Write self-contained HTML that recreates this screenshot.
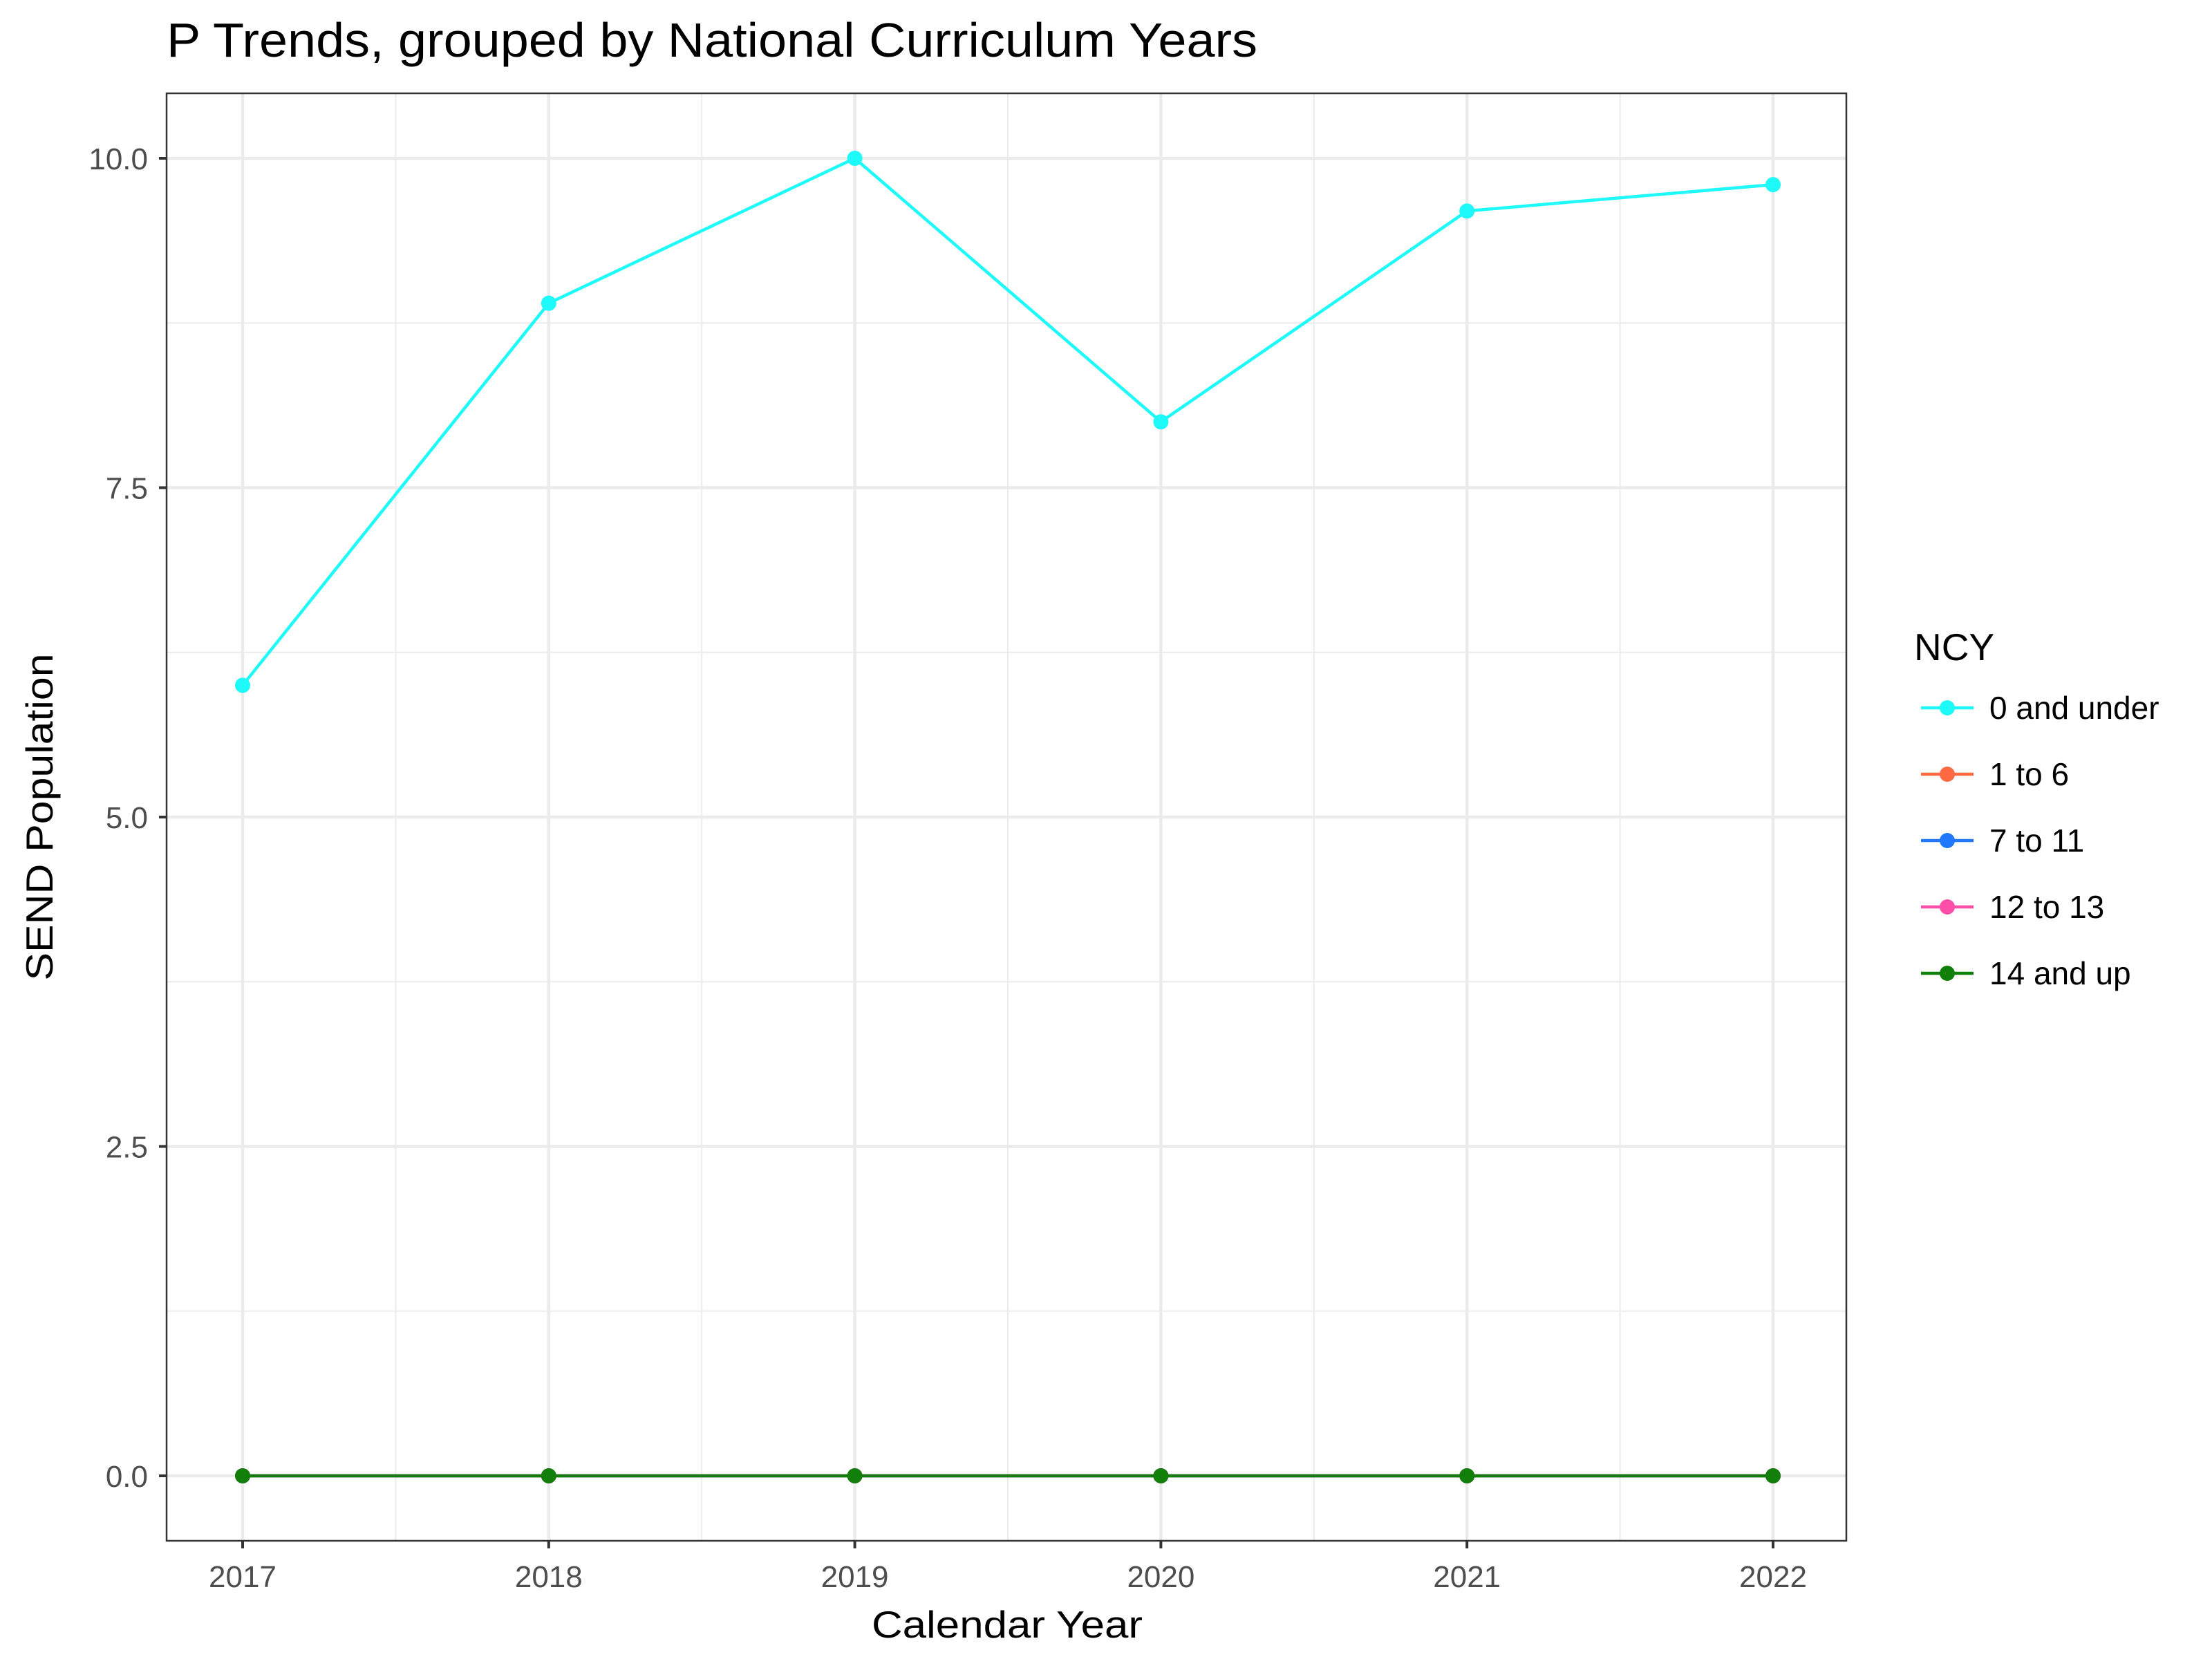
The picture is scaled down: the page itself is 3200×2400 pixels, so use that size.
<!DOCTYPE html>
<html><head><meta charset="utf-8"><style>html,body{margin:0;padding:0;background:#fff}svg{display:block}</style></head>
<body>
<svg id="chart" width="3200" height="2400" viewBox="0 0 3200 2400" xmlns="http://www.w3.org/2000/svg" font-family="'Liberation Sans', Arial, sans-serif">
<rect width="3200" height="2400" fill="#fff"/>
<text x="241" y="82" font-size="70" fill="#000" textLength="1578" lengthAdjust="spacingAndGlyphs">P Trends, grouped by National Curriculum Years</text>
<g id="grid"></g>
<g id="series"></g>
<rect x="241" y="135" width="2430" height="2094" fill="none" stroke="#333" stroke-width="2.5"/>
<g id="axes"></g>
<text x="1457" y="2369" font-size="55" text-anchor="middle" fill="#000" textLength="392" lengthAdjust="spacingAndGlyphs">Calendar Year</text>
<text transform="translate(76,1182) rotate(-90)" font-size="55" text-anchor="middle" fill="#000" textLength="473" lengthAdjust="spacingAndGlyphs">SEND Population</text>
<g id="legend">
<text x="2769" y="955" font-size="55" fill="#000">NCY</text>
</g>
</svg>
<script>
const years = [2017, 2018, 2019, 2020, 2021, 2022];
const yTicks = [0, 2.5, 5, 7.5, 10];
const yTickLabels = ["0.0", "2.5", "5.0", "7.5", "10.0"];
const seriesNames = ["0 and under", "1 to 6", "7 to 11", "12 to 13", "14 and up"];
const seriesColors = ["#1ef9f9", "#ff6a42", "#1f78ff", "#ff4fa8", "#117f0a"];
const s0 = [6, 8.9, 10, 8, 9.6, 9.8];
const s1 = [0, 0, 0, 0, 0, 0];
const s2 = [0, 0, 0, 0, 0, 0];
const s3 = [0, 0, 0, 0, 0, 0];
const s4 = [0, 0, 0, 0, 0, 0];
const allSeries = [s0, s1, s2, s3, s4];

const NS = "http://www.w3.org/2000/svg";
const px0 = 351, px1 = 2565, py0 = 2135, py1 = 229;
function xs(v){ return px0 + (v - 2017) / (2022 - 2017) * (px1 - px0); }
function ys(v){ return py0 + (v - 0) / (10 - 0) * (py1 - py0); }
function mk(tag, attrs, parent){ const e = document.createElementNS(NS, tag); for (const k in attrs) e.setAttribute(k, attrs[k]); parent.appendChild(e); return e; }

const grid = document.getElementById('grid');
mk('rect', {x:241, y:135, width:2430, height:2094, fill:'#fff'}, grid);
for (let i = 0; i < yTicks.length - 1; i++) {
  const v = (yTicks[i] + yTicks[i+1]) / 2;
  const l = mk('line', {x1:241, x2:2671, y1:ys(v), y2:ys(v), stroke:'#ebebeb', 'stroke-width':2}, grid);
  
  
}
for (let i = 0; i < years.length - 1; i++) {
  const v = (years[i] + years[i+1]) / 2;
  const l = mk('line', {x1:xs(v), x2:xs(v), y1:135, y2:2229, stroke:'#ebebeb', 'stroke-width':2}, grid);
  
  
}
yTicks.forEach(v => {
  const l = mk('line', {x1:241, x2:2671, y1:ys(v), y2:ys(v), stroke:'#ebebeb', 'stroke-width':4.5}, grid);
  
  
});
years.forEach(v => {
  const l = mk('line', {x1:xs(v), x2:xs(v), y1:135, y2:2229, stroke:'#ebebeb', 'stroke-width':4.5}, grid);
  
  
});

const axes = document.getElementById('axes');
yTicks.forEach((v, i) => {
  const t = mk('line', {x1:230, x2:241, y1:ys(v), y2:ys(v), stroke:'#333', 'stroke-width':4}, axes);
  
  
  const tx = mk('text', {x:214, y:ys(v) + 16, 'font-size':44, fill:'#4d4d4d', 'text-anchor':'end'}, axes);
  tx.textContent = yTickLabels[i];
  
  
});
years.forEach(v => {
  const t = mk('line', {x1:xs(v), x2:xs(v), y1:2229, y2:2240, stroke:'#333', 'stroke-width':4}, axes);
  
  
  const tx = mk('text', {x:xs(v), y:2296, 'font-size':44, fill:'#4d4d4d', 'text-anchor':'middle'}, axes);
  tx.textContent = String(v);
  
  
});

const sg = document.getElementById('series');
allSeries.forEach((vals, si) => {
  const g = mk('g', {}, sg);
  
  
  const pts = vals.map((v, i) => xs(years[i]) + ',' + ys(v)).join(' ');
  const pl = mk('polyline', {points:pts, fill:'none', stroke:seriesColors[si], 'stroke-width':4.5}, g);
  
  
  vals.forEach((v, i) => {
    const c = mk('circle', {cx:xs(years[i]), cy:ys(v), r:11, fill:seriesColors[si]}, g);
    
    
  });
});

const lg = document.getElementById('legend');
seriesNames.forEach((n, i) => {
  const y = 1024 + i * 96;
  const g = mk('g', {}, lg);
  
  
  mk('line', {x1:2779, x2:2855, y1:y, y2:y, stroke:seriesColors[i], 'stroke-width':4.5}, g);
  mk('circle', {cx:2817, cy:y, r:11, fill:seriesColors[i]}, g);
  const t = mk('text', {x:2878, y:y + 16, 'font-size':46, fill:'#000'}, g);
  t.textContent = n;
  
  
});
</script>
</body></html>
